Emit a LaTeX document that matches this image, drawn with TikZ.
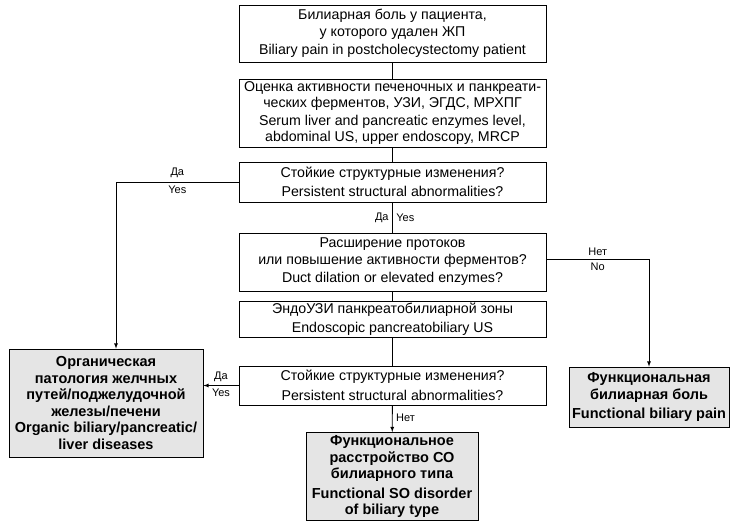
\documentclass[tikz,border=0pt]{standalone}
\usepackage{fontspec}
\setmainfont{Liberation Sans}

\begin{document}
\begin{tikzpicture}[x=1pt, y=-1pt, line width=0.8pt,
  box/.style={draw, align=center, inner sep=0pt, minimum width=307pt,
    font=\fontsize{14.2}{16.5}\selectfont},
  result/.style={box, fill=gray!20, font=\fontsize{14.5}{16.5}\selectfont\bfseries},
  lab/.style={font=\fontsize{11}{12}\selectfont, inner sep=3.5pt}]
\useasboundingbox (0,0) rectangle (735,528);
% main column of steps
\node[box, minimum height=57pt] (pain) at (392.5,33.5)
  {Билиарная боль у пациента,\\ у которого удален ЖП\\[2pt] Biliary pain in postcholecystectomy patient};
\node[box, minimum height=68pt] (tests) at (392.5,113)
  {Оценка активности печеночных и панкреати-\\ ческих ферментов, УЗИ, ЭГДС, МРХПГ\\[1pt]
   Serum liver and pancreatic enzymes level,\\ abdominal US, upper endoscopy, MRCP};
\node[box, minimum height=40pt] (struct1) at (392.5,182)
  {Стойкие структурные изменения?\\[3pt] Persistent structural abnormalities?};
\node[box, minimum height=58pt] (dilat) at (392.5,262)
  {Расширение протоков\\ или повышение активности ферментов?\\[2pt] Duct dilation or elevated enzymes?};
\node[box, minimum height=36pt] (eus) at (392.5,319)
  {ЭндоУЗИ панкреатобилиарной зоны\\[3pt] Endoscopic pancreatobiliary US};
\node[box, minimum height=39pt] (struct2) at (392.5,385.5)
  {Стойкие структурные изменения?\\[3pt] Persistent structural abnormalities?};
% outcomes
\node[result, minimum width=172pt, minimum height=88pt] (sod) at (392,476.5)
  {Функциональное\\ расстройство СО\\ билиарного типа\\[3pt] Functional SO disorder\\ of biliary type};
\node[result, minimum width=194pt, minimum height=108pt] (organic) at (106,403)
  {Органическая\\ патология желчных\\ путей/поджелудочной\\ железы/печени\\
   Organic biliary/pancreatic/\\ liver diseases};
\node[result, minimum width=160pt, minimum height=60pt] (funcpain) at (649,397)
  {Функциональная\\ билиарная боль\\[3pt] Functional biliary pain};
% connectors
\draw (pain) -- (tests);
\draw (tests) -- (struct1);
\draw (struct1) -- node[lab, left] {Да} node[lab, right] {Yes} (dilat);
\draw (dilat) -- (eus);
\draw (eus) -- (struct2);
\draw[-latex] (struct1.west) -| node[lab, pos=0.25, above] {Да} node[lab, pos=0.25, below] {Yes}
  ([xshift=10pt]organic.north);
\draw[-latex] ([yshift=3pt]dilat.east) -| node[lab, pos=0.25, above] {Нет} node[lab, pos=0.25, below] {No}
  (funcpain.north);
\draw[-latex] (struct2.west) -- node[lab, above] {Да} node[lab, below] {Yes}
  (struct2.west -| organic.east);
\draw[-latex] (struct2) -- node[lab, right, pos=0.45] {Нет} (sod);
\end{tikzpicture}
\end{document}
